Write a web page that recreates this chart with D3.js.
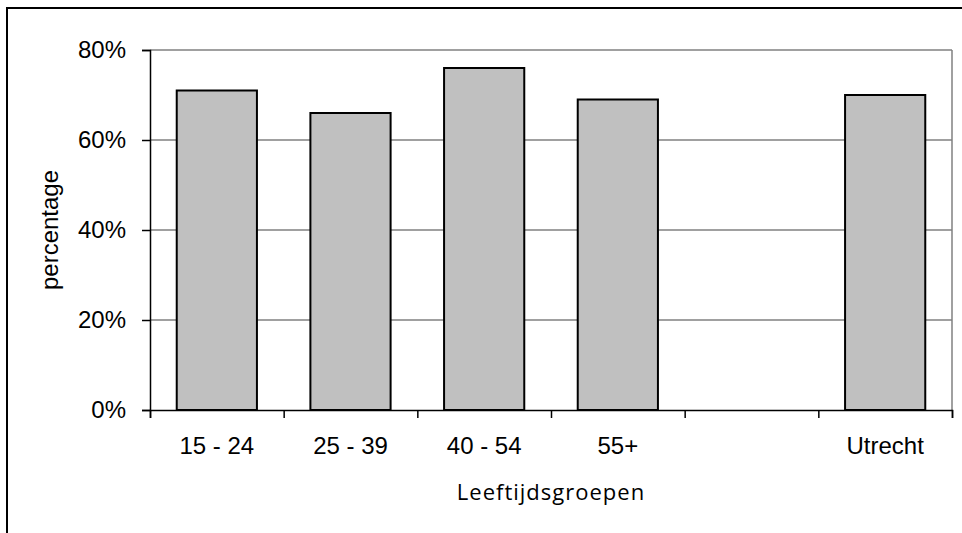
<!DOCTYPE html>
<html>
<head>
<meta charset="utf-8">
<script src="https://cdn.jsdelivr.net/npm/d3@7"></script>
<style>
  html, body { margin: 0; padding: 0; background: #fff; }
  svg { display: block; }
</style>
</head>
<body>
<svg id="chart" width="962" height="533"></svg>
<script>
const categories = ["15 - 24", "25 - 39", "40 - 54", "55+", "", "Utrecht"];
const values = [71, 66, 76, 69, null, 70];
const yTicks = [0, 20, 40, 60, 80];
const yTickLabels = ["0%", "20%", "40%", "60%", "80%"];
const xTitle = "Leeftijdsgroepen";
const yTitle = "percentage";

const svg = d3.select("#chart");
const plot = { left: 150, right: 952, top: 50, bottom: 410 };

// outer frame
svg.append("rect")
  .attr("x", 7).attr("y", 8).attr("width", 1000).attr("height", 600)
  .attr("fill", "none").attr("stroke", "#000").attr("stroke-width", 2);

const x = d3.scaleBand()
  .domain(d3.range(categories.length))
  .range([plot.left, plot.right])
  .paddingInner(0.4).paddingOuter(0.2);

const y = d3.scaleLinear().domain([0, 80]).range([plot.bottom, plot.top]);

// gridlines
svg.append("g").selectAll("line").data(yTicks.filter(d => d > 0)).join("line")
  .attr("x1", plot.left).attr("x2", plot.right)
  .attr("y1", d => y(d)).attr("y2", d => y(d))
  .attr("stroke", "#808080").attr("stroke-width", 1.5);

// plot right border
svg.append("line")
  .attr("x1", plot.right).attr("x2", plot.right)
  .attr("y1", plot.top).attr("y2", plot.bottom)
  .attr("stroke", "#808080").attr("stroke-width", 1.5);

// bars
svg.append("g").selectAll("rect")
  .data(values.map((v, i) => ({ i, v })).filter(d => d.v != null))
  .join("rect")
  .attr("x", d => x(d.i))
  .attr("width", x.bandwidth())
  .attr("y", d => y(d.v))
  .attr("height", d => y(0) - y(d.v))
  .attr("fill", "#c0c0c0")
  .attr("stroke", "#000")
  .attr("stroke-width", 2);

// y axis
const yAxis = d3.axisLeft(y).tickValues(yTicks)
  .tickFormat((d, i) => yTickLabels[i]).tickSize(8).tickPadding(16);
const gy = svg.append("g").attr("transform", `translate(${plot.left},0)`).call(yAxis);
gy.select(".domain").attr("stroke", "#000").attr("stroke-width", 1.5);
gy.selectAll(".tick line").attr("stroke", "#000").attr("stroke-width", 1.5);
gy.selectAll(".tick text")
  .attr("font-family", "'Liberation Sans', Arial, sans-serif")
  .attr("font-size", 24).attr("fill", "#000").attr("dy", "0.3em");

// x axis (ticks at slot boundaries)
const step = x.step();
const boundaries = d3.range(categories.length + 1);
const xb = d3.scaleLinear().domain([0, categories.length]).range([plot.left, plot.right]);
const xAxis = d3.axisBottom(xb).tickValues(boundaries).tickFormat("").tickSize(8);
const gx = svg.append("g").attr("transform", `translate(0,${plot.bottom})`).call(xAxis);
gx.select(".domain").attr("stroke", "#000").attr("stroke-width", 1.5);
gx.selectAll(".tick line").attr("stroke", "#000").attr("stroke-width", 1.5);

svg.append("g").selectAll("text").data(categories).join("text")
  .attr("x", (d, i) => x(i) + x.bandwidth() / 2)
  .attr("y", 454)
  .attr("text-anchor", "middle")
  .attr("font-family", "'Liberation Sans', Arial, sans-serif")
  .attr("font-size", 24).attr("fill", "#000")
  .text(d => d);

// axis titles
svg.append("text")
  .attr("x", (plot.left + plot.right) / 2).attr("y", 500)
  .attr("text-anchor", "middle")
  .attr("font-family", "'Open Sans', 'Noto Sans', sans-serif")
  .attr("font-size", 22).attr("letter-spacing", 1).attr("fill", "#000")
  .text(xTitle);

svg.append("text")
  .attr("transform", `translate(58,${(plot.top + plot.bottom) / 2}) rotate(-90)`)
  .attr("text-anchor", "middle")
  .attr("font-family", "'Liberation Sans', Arial, sans-serif")
  .attr("font-size", 24).attr("fill", "#000")
  .text(yTitle);
</script>
</body>
</html>
